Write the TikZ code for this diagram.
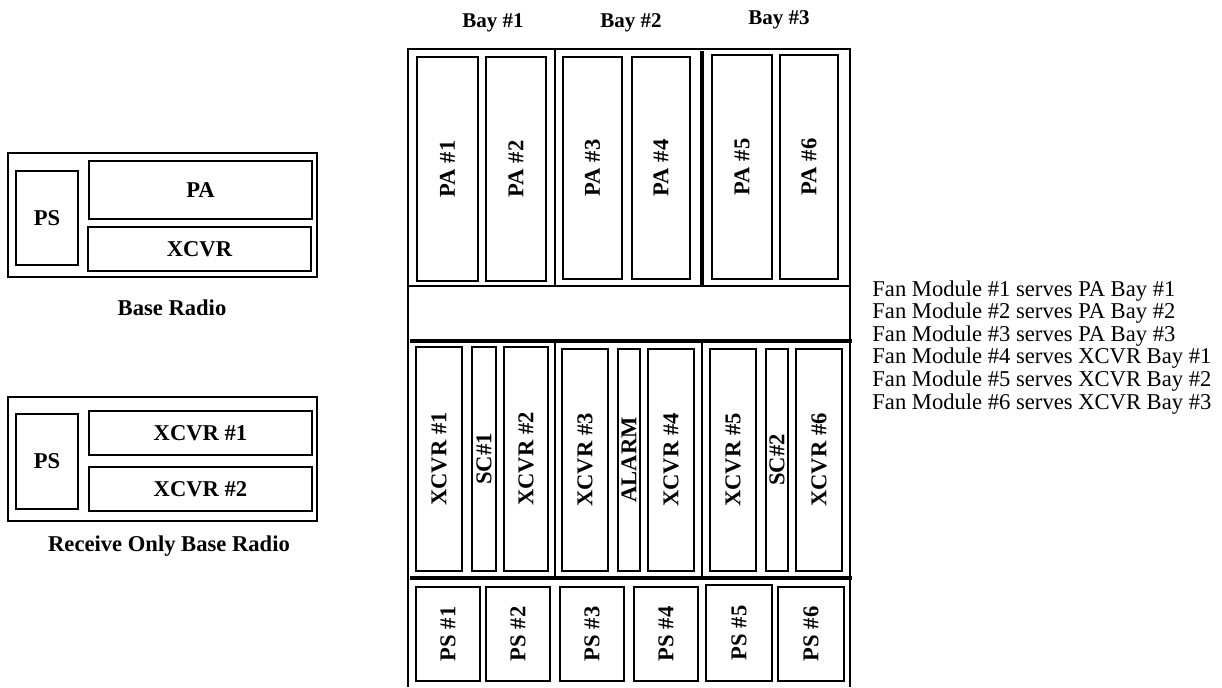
\documentclass[tikz,border=0pt]{standalone}
\usepackage{fontspec}
\setmainfont{Liberation Serif}
\usetikzlibrary{calc}

% one module slot: style, name, x1, y1, x2, y2, text
\newcommand{\slot}[7]{%
  \draw[box] (#3,#4) rectangle (#5,#6);
  \node[#1] (#2) at ($(#3,#4)!0.5!(#5,#6)$) {#7};}

\begin{document}
\begin{tikzpicture}[x=0.5pt,y=-0.5pt,line join=miter,
  box/.style={draw,line width=1pt},
  heavy/.style={line width=2pt},
  lbl/.style={font=\fontsize{11.3}{13}\selectfont\bfseries,inner sep=0pt},
  vlbl/.style={lbl,rotate=90},
  baylbl/.style={font=\fontsize{10.5}{12}\selectfont\bfseries,inner sep=0pt},
  caplbl/.style={font=\fontsize{11.3}{13}\selectfont\bfseries,inner sep=0pt},
  note/.style={font=\fontsize{11.3}{12}\selectfont,inner sep=0pt}]
  \useasboundingbox (0,0) rectangle (1222,687);

  % Base radio
  \draw[box] (8,153) rectangle (317,277);
  \slot{lbl}{brps}{16}{171}{78}{265}{PS}
  \slot{lbl}{brpa}{89}{161}{312}{219}{PA}
  \slot{lbl}{brxcvr}{88}{227}{311}{271}{XCVR}
  \node[caplbl] (brcap) at (172,308) {Base Radio};

  % Receive only base radio
  \draw[box] (8,397) rectangle (317,521);
  \slot{lbl}{rops}{16}{414}{78}{509}{PS}
  \slot{lbl}{roxa}{89}{411}{312}{455}{XCVR \#1}
  \slot{lbl}{roxb}{89}{467}{312}{511}{XCVR \#2}
  \node[caplbl] (rocap) at (169,546) {Receive Only Base Radio};

  % Cabinet frame and bay dividers
  \draw[line width=1pt] (408,687) -- (408,49) -- (850,49) -- (850,687);
  \draw[line width=1pt] (408,286) -- (850,286);
  \draw[heavy] (410,341) -- (852,341);
  \draw[heavy] (410,578) -- (852,578);
  \draw[line width=1pt] (555,49) -- (555,286) (555,341) -- (555,578)
    (702,341) -- (702,578);
  \draw[heavy] (702,51) -- (702,286);

  \node[baylbl,anchor=base] (bay1) at (493,27) {Bay \#1};
  \node[baylbl,anchor=base] (bay2) at (631,27) {Bay \#2};
  \node[baylbl,anchor=base] (bay3) at (779,24) {Bay \#3};

  % PA shelf
  \foreach \n/\xa/\ya/\xb/\yb in {1/417/57/478/281,2/486/57/546/281,
      3/563/57/622/279,4/632/57/690/279,5/712/55/772/279,6/780/55/838/279}
    {\slot{vlbl}{pa\n}{\xa}{\ya}{\xb}{\yb}{PA \#\n}}

  % XCVR shelf
  \foreach \nm/\xa/\ya/\xb/\t in {xcvr1/416/347/462/XCVR \#1,sc1/472/347/496/SC\#1,
      xcvr2/504/347/548/XCVR \#2,xcvr3/562/349/608/XCVR \#3,alarm/618/349/640/ALARM,
      xcvr4/648/349/694/XCVR \#4,xcvr5/710/349/756/XCVR \#5,sc2/766/349/788/SC\#2,
      xcvr6/796/349/842/XCVR \#6}
    {\slot{vlbl}{\nm}{\xa}{\ya}{\xb}{571}{\t}}

  % PS shelf
  \foreach \n/\xa/\ya/\xb in {1/416/587/480,2/486/587/550,3/560/587/624,
      4/634/587/698,5/706/585/772,6/778/587/844}
    {\slot{vlbl}{ps\n}{\xa}{\ya}{\xb}{681}{PS \#\n}}

  % Fan modules
  \foreach \i/\bay in {1/PA Bay \#1,2/PA Bay \#2,3/PA Bay \#3,
      4/XCVR Bay \#1,5/XCVR Bay \#2,6/XCVR Bay \#3}
    \node[note,anchor=base west] (fan\i) at (872,{296+(\i-1)*22.6})
      {Fan Module \#\i\ serves \bay};
\end{tikzpicture}
\end{document}
